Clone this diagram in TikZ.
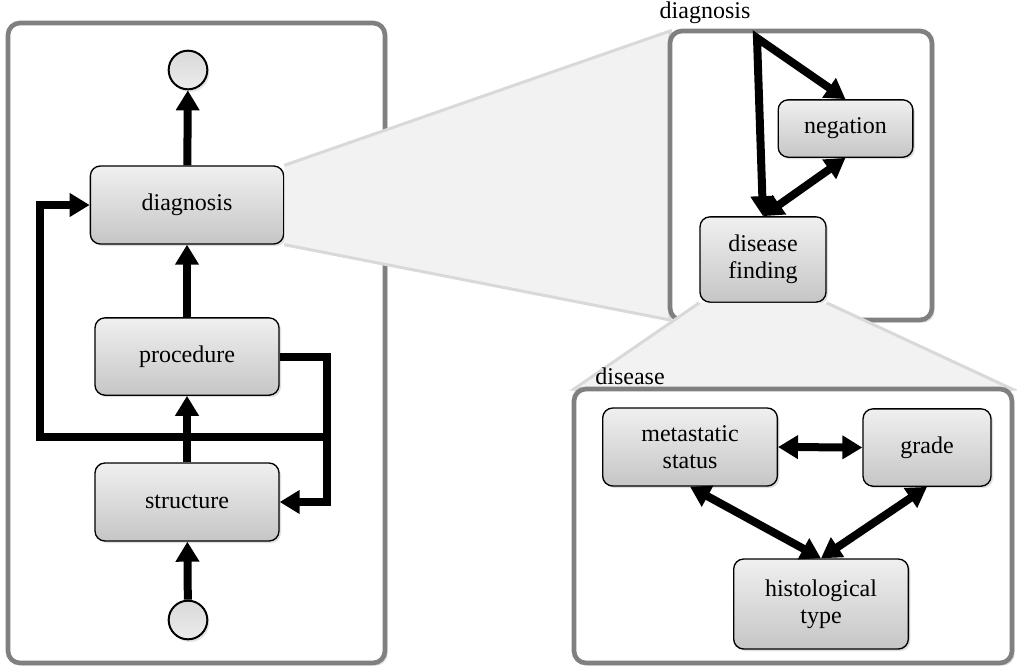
\documentclass[tikz,border=0pt]{standalone}
\usepackage{fontspec}
\setmainfont{Liberation Serif}
\usetikzlibrary{arrows.meta,shadows}
\begin{document}
\begin{tikzpicture}[
		x=0.75pt,y=-0.75pt,
		>={Triangle[width=17pt,length=15pt]},
		line width=6pt,
		font=\fontsize{18}{20}\selectfont,
		box/.style={draw=black,line width=1pt,rounded corners=7.5pt,
			top color=gray!12,bottom color=gray!45,align=center,inner sep=2pt,
			drop shadow={shadow xshift=1.5pt,shadow yshift=-1.5pt,opacity=0.25}},
		endpoint/.style={circle,draw=black,line width=1.5pt,minimum size=29pt,inner sep=0pt,
			top color=gray!30,bottom color=gray!15,
			drop shadow={shadow xshift=1.5pt,shadow yshift=-2pt,opacity=0.2}},
		panel/.style={draw=gray,line width=3.5pt,fill=white,rounded corners=9pt,
			drop shadow={shadow xshift=2pt,shadow yshift=-2pt,opacity=0.25}},
		fan/.style={draw=gray!30,line width=2.25pt,fill=gray!10}
		]
		\useasboundingbox (0,0) rectangle (1017,668);
		\coordinate (diagpanelnw) at (670,31);
		\coordinate (diagpanelsw) at (670,320);
		\coordinate (dispanelnw) at (574,389);
		\coordinate (dispanelne) at (1012,389);
		\draw[panel] (8,23) rectangle (385,663);
		\node[box,minimum width=145pt,minimum height=58.5pt] (diag) at (187,205) {diagnosis};
		\node[box,minimum width=138pt,minimum height=58pt] (proc) at (187,356.5) {procedure};
		\node[box,minimum width=138pt,minimum height=58.5pt] (struct) at (187,502) {structure};
		\node[endpoint] (topend) at (188,70) {};
		\node[endpoint] (botend) at (188,620) {};
		\filldraw[fan] (diag.north east) -- (diagpanelnw) -- (diagpanelsw) -- (diag.south east);
		\draw[panel] (diagpanelnw) rectangle (932,320);
		\node (diaglabel) at (705,13) {diagnosis};
		\node[box,minimum width=101pt,minimum height=43pt] (neg) at (845.5,128.5) {negation};
		\node[box,minimum width=94.5pt,minimum height=64pt] (df) at (763,259.5) {disease\\finding};
		\coordinate (diagstart) at (757,38);
		\filldraw[fan] (df.south west) -- (dispanelnw) -- (dispanelne) -- (df.south east);
		\draw[panel] (dispanelnw) rectangle (1012,663);
		\node (dislabel) at (630,376) {disease};
		\node[box,minimum width=131pt,minimum height=58.5pt] (ms) at (690,447) {metastatic\\status};
		\node[box,minimum width=96pt,minimum height=58pt] (grade) at (927,447.5) {grade};
		\node[box,minimum width=131pt,minimum height=67.5pt] (hist) at (821,604) {histological\\type};
		\coordinate (branch) at (327,437);
		\begin{scope}[->]
		\draw (botend) -- (struct);
		\draw (struct) -- (proc);
		\draw (proc) -- (diag);
		\draw (diag) -- (topend);
		\draw (proc.east) -- (327,356.5) |- (struct.east);
		\draw (branch) -- (40,437) |- (diag.west);
		\end{scope}
		\begin{scope}[<->]
		\draw (neg.north) -- (diagstart) -- (df.north);
		\draw (neg.south) -- (df.north);
		\draw (ms.east) -- (grade.west);
		\draw (ms.south) -- (hist.north);
		\draw (grade.south) -- (hist.north);
		\end{scope}
		\end{tikzpicture}
\end{document}
